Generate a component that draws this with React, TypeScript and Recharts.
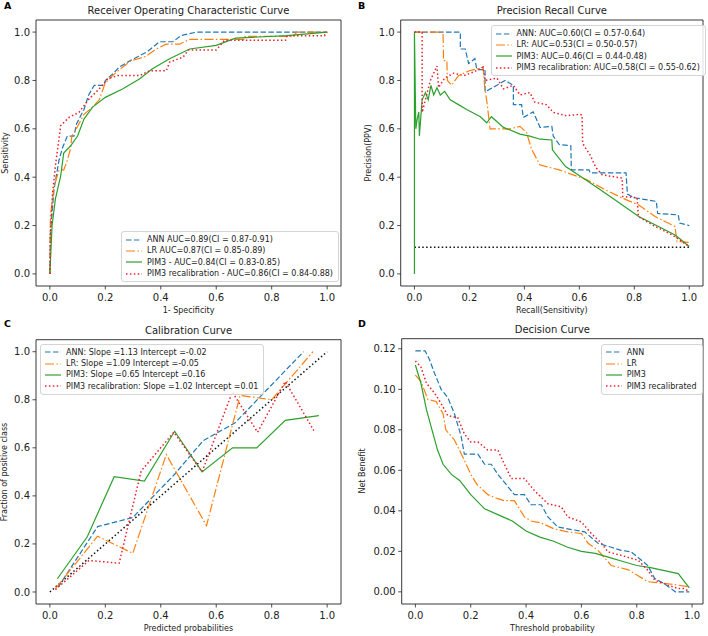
import { LineChart, Line, XAxis, YAxis, ReferenceArea } from 'recharts'

type Pt = [number, number]

const FONT = '"DejaVu Sans", "Liberation Sans", sans-serif'

const unitTicks = [0, 0.2, 0.4, 0.6, 0.8, 1.0]
const benefitTicks = [0, 0.02, 0.04, 0.06, 0.08, 0.1, 0.12]

// A: ROC curves (1-specificity, sensitivity)
const rocAnn: Pt[] = [
  [0, 0], [0.002, 0.17], [0.015, 0.35], [0.033, 0.47], [0.045, 0.52], [0.063, 0.57], [0.087, 0.57],
  [0.096, 0.62], [0.123, 0.68], [0.14, 0.74], [0.16, 0.78], [0.196, 0.78], [0.2, 0.8], [0.23, 0.83],
  [0.25, 0.855], [0.287, 0.88], [0.32, 0.9], [0.353, 0.92], [0.395, 0.96], [0.444, 0.96], [0.474, 0.986],
  [0.53, 1], [1, 1],
]
const rocLr: Pt[] = [
  [0, 0], [0.002, 0.24], [0.015, 0.36], [0.033, 0.43], [0.05, 0.43], [0.063, 0.47], [0.075, 0.52],
  [0.079, 0.57], [0.1, 0.61], [0.123, 0.66], [0.154, 0.69], [0.178, 0.72], [0.2, 0.79], [0.226, 0.82],
  [0.262, 0.855], [0.29, 0.88], [0.347, 0.9], [0.383, 0.93], [0.42, 0.95], [0.468, 0.95], [0.504, 0.97],
  [0.7, 0.97], [0.703, 0.982], [0.88, 0.982], [0.89, 1], [1, 1],
]
const rocPim: Pt[] = [
  [0, 0], [0.008, 0.2], [0.02, 0.31], [0.039, 0.405], [0.05, 0.5], [0.075, 0.53], [0.1, 0.57],
  [0.123, 0.64], [0.154, 0.69], [0.2, 0.73], [0.262, 0.765], [0.323, 0.806], [0.37, 0.848],
  [0.432, 0.89], [0.504, 0.93], [0.6, 0.945], [0.67, 0.975], [0.854, 0.985], [0.95, 0.995], [1, 1],
]
const rocRecal: Pt[] = [
  [0, 0], [0.002, 0.17], [0.01, 0.336], [0.02, 0.447], [0.039, 0.613], [0.069, 0.647], [0.105, 0.668],
  [0.141, 0.723], [0.178, 0.765], [0.208, 0.806], [0.244, 0.82], [0.323, 0.82], [0.36, 0.84],
  [0.42, 0.84], [0.432, 0.876], [0.48, 0.896], [0.5, 0.926], [0.6, 0.926], [0.63, 0.966],
  [0.85, 0.966], [0.855, 0.985], [0.99, 0.985], [1, 1],
]
const rocLabels = [
  'ANN AUC=0.89(CI = 0.87-0.91)',
  'LR AUC=0.87(CI = 0.85-0.89)',
  'PIM3 - AUC=0.84(CI = 0.83-0.85)',
  'PIM3 recalibration - AUC=0.86(CI = 0.84-0.88)',
]

// B: precision-recall curves
const prAnn: Pt[] = [
  [0, 1], [0.167, 1], [0.167, 0.93], [0.185, 0.93], [0.197, 0.87], [0.22, 0.89], [0.227, 0.845],
  [0.257, 0.845], [0.257, 0.753], [0.3, 0.78], [0.33, 0.8], [0.36, 0.78], [0.36, 0.7], [0.39, 0.7],
  [0.396, 0.647], [0.432, 0.67], [0.457, 0.606], [0.5, 0.61], [0.505, 0.57], [0.527, 0.535],
  [0.569, 0.53], [0.571, 0.43], [0.635, 0.43], [0.64, 0.418], [0.77, 0.418], [0.775, 0.33],
  [0.8, 0.315], [0.88, 0.3], [0.885, 0.25], [0.96, 0.244], [0.965, 0.21], [1, 0.2],
]
const prLr: Pt[] = [
  [0, 1], [0.104, 1], [0.106, 0.882], [0.118, 0.882], [0.12, 0.8], [0.135, 0.78], [0.16, 0.82],
  [0.2, 0.84], [0.25, 0.855], [0.255, 0.78], [0.265, 0.7], [0.275, 0.6], [0.348, 0.6], [0.384, 0.61],
  [0.408, 0.585], [0.426, 0.516], [0.457, 0.45], [0.527, 0.43], [0.626, 0.39], [0.696, 0.347],
  [0.756, 0.314], [0.816, 0.285], [0.876, 0.237], [0.948, 0.196], [0.955, 0.134], [1, 0.13],
]
const prPim: Pt[] = [
  [0, 0], [0, 1], [0.005, 0.6], [0.01, 0.64], [0.016, 0.67], [0.018, 0.57], [0.028, 0.72],
  [0.04, 0.75], [0.05, 0.72], [0.06, 0.78], [0.07, 0.74], [0.082, 0.77], [0.094, 0.74], [0.11, 0.755],
  [0.13, 0.72], [0.16, 0.7], [0.19, 0.68], [0.24, 0.65], [0.263, 0.625], [0.28, 0.65], [0.324, 0.606],
  [0.384, 0.578], [0.42, 0.57], [0.457, 0.557], [0.5, 0.554], [0.502, 0.513], [0.55, 0.444],
  [0.623, 0.389], [0.72, 0.314], [0.816, 0.237], [0.888, 0.196], [0.95, 0.16], [1, 0.113],
]
const prRecal: Pt[] = [
  [0, 1], [0.028, 1], [0.028, 0.668], [0.04, 0.72], [0.058, 0.8], [0.082, 0.86], [0.088, 0.77],
  [0.11, 0.81], [0.143, 0.83], [0.18, 0.82], [0.215, 0.835], [0.25, 0.855], [0.257, 0.8], [0.3, 0.81],
  [0.324, 0.765], [0.36, 0.78], [0.384, 0.74], [0.42, 0.75], [0.438, 0.71], [0.48, 0.7], [0.505, 0.668],
  [0.553, 0.654], [0.6, 0.66], [0.61, 0.657], [0.612, 0.54], [0.64, 0.49], [0.66, 0.44], [0.683, 0.41],
  [0.756, 0.396], [0.758, 0.32], [0.81, 0.315], [0.815, 0.237], [0.87, 0.2], [0.94, 0.16], [1, 0.113],
]
const prBaseline: Pt[] = [[0, 0.11], [1, 0.11]]
const prLabels = [
  'ANN: AUC=0.60(CI = 0.57-0.64)',
  'LR: AUC=0.53(CI = 0.50-0.57)',
  'PIM3: AUC=0.46(CI = 0.44-0.48)',
  'PIM3 recalibration: AUC=0.58(CI = 0.55-0.62)',
]

// C: calibration curves
const calAnn: Pt[] = [
  [0.03, 0.02], [0.172, 0.272], [0.299, 0.31], [0.45, 0.49], [0.553, 0.63], [0.667, 0.703], [0.915, 1.0],
]
const calLr: Pt[] = [
  [0.02, 0.014], [0.172, 0.232], [0.299, 0.161], [0.42, 0.572], [0.565, 0.276], [0.686, 0.818],
  [0.8, 0.8], [0.949, 1.0],
]
const calPim: Pt[] = [
  [0.027, 0.055], [0.135, 0.23], [0.232, 0.48], [0.341, 0.462], [0.45, 0.669], [0.549, 0.5],
  [0.659, 0.6], [0.746, 0.6], [0.849, 0.714], [0.97, 0.734],
]
const calRecal: Pt[] = [
  [0.02, 0.01], [0.141, 0.131], [0.25, 0.12], [0.329, 0.503], [0.447, 0.665], [0.549, 0.5],
  [0.658, 0.832], [0.749, 0.665], [0.849, 0.876], [0.952, 0.672],
]
const calIdeal: Pt[] = [[0, 0], [1, 1]]
const calLabels = [
  'ANN: Slope =1.13 Intercept =-0.02',
  'LR: Slope =1.09 Intercept =-0.05',
  'PIM3: Slope =0.65 Intercept =0.16',
  'PIM3 recalibration: Slope =1.02 Intercept =0.01',
]

// D: decision curves (threshold, net benefit)
const dcaAnn: Pt[] = [
  [0, 0.119], [0.035, 0.119], [0.05, 0.115], [0.069, 0.108], [0.093, 0.1], [0.117, 0.096],
  [0.141, 0.088], [0.165, 0.077], [0.177, 0.068], [0.226, 0.068], [0.25, 0.063], [0.274, 0.063],
  [0.298, 0.058], [0.322, 0.054], [0.358, 0.048], [0.394, 0.048], [0.418, 0.043], [0.455, 0.043],
  [0.479, 0.037], [0.515, 0.032], [0.612, 0.0296], [0.66, 0.024], [0.708, 0.022], [0.744, 0.0205],
  [0.78, 0.0197], [0.805, 0.017], [0.84, 0.013], [0.865, 0.0066], [0.9, 0.004], [0.94, 0], [0.99, 0],
]
const dcaLr: Pt[] = [
  [0, 0.107], [0.02, 0.104], [0.045, 0.095], [0.075, 0.094], [0.1, 0.088], [0.11, 0.08],
  [0.141, 0.075], [0.177, 0.065], [0.2, 0.058], [0.223, 0.053], [0.262, 0.048], [0.298, 0.046],
  [0.322, 0.045], [0.358, 0.045], [0.394, 0.037], [0.418, 0.035], [0.455, 0.034], [0.503, 0.031],
  [0.551, 0.0296], [0.6, 0.0288], [0.624, 0.024], [0.66, 0.0205], [0.708, 0.013], [0.768, 0.011],
  [0.805, 0.008], [0.84, 0.005], [0.913, 0.004], [0.99, 0.0025],
]
const dcaPim: Pt[] = [
  [0, 0.112], [0.02, 0.103], [0.04, 0.09], [0.06, 0.08], [0.08, 0.07], [0.1, 0.063], [0.13, 0.058],
  [0.16, 0.055], [0.2, 0.048], [0.25, 0.041], [0.3, 0.038], [0.35, 0.035], [0.4, 0.03], [0.45, 0.027],
  [0.5, 0.025], [0.55, 0.022], [0.6, 0.02], [0.65, 0.019], [0.7, 0.017], [0.75, 0.015], [0.8, 0.013],
  [0.85, 0.012], [0.9, 0.0105], [0.95, 0.009], [0.99, 0.002],
]
const dcaRecal: Pt[] = [
  [0, 0.114], [0.02, 0.111], [0.04, 0.103], [0.07, 0.098], [0.093, 0.093], [0.117, 0.087],
  [0.153, 0.086], [0.177, 0.078], [0.2, 0.074], [0.226, 0.074], [0.262, 0.07], [0.298, 0.07],
  [0.322, 0.063], [0.346, 0.056], [0.394, 0.056], [0.43, 0.05], [0.479, 0.0435], [0.527, 0.042],
  [0.551, 0.037], [0.6, 0.0345], [0.636, 0.0288], [0.672, 0.024], [0.696, 0.0197], [0.744, 0.018],
  [0.805, 0.0156], [0.84, 0.0107], [0.865, 0.0058], [0.913, 0.0033], [0.95, 0.0016], [0.973, 0.0016],
  [0.99, 0],
]
const dcaLabels = ['ANN', 'LR', 'PIM3', 'PIM3 recalibrated']

const styles = [
  { stroke: '#1f77b4', dash: '5.5 2.4', width: 1.2 },
  { stroke: '#ff7f0e', dash: '9 2.4 1.5 2.4', width: 1.2 },
  { stroke: '#2ca02c', dash: undefined, width: 1.2 },
  { stroke: '#e8202a', dash: '1.5 2.4', width: 1.5 },
]
const refStyle = { stroke: '#111', dash: '1.5 2.4', width: 1.5 }

type Style = { stroke: string; dash?: string; width: number }

interface PanelProps {
  left: number
  top: number
  plot: { x: number; y: number; w: number; h: number }
  letter: string
  title: string
  xLabel: string
  yLabel: string
  yLabelX: number
  xDomain: [number, number]
  yDomain: [number, number]
  yTicks: number[]
  yDigits: number
  series: Pt[][]
  reference?: Pt[]
  labels: string[]
  legendPos: { x: number; y: number }
}

const toRows = (pts: Pt[]) => pts.map(([x, y]) => ({ x, y }))

function Legend({ labels, x, y }: { labels: string[]; x: number; y: number }) {
  return (
    <div
      style={{
        position: 'absolute', left: x, top: y, border: '1px solid #d4d4d4', borderRadius: 3,
        background: 'rgba(255,255,255,0.85)', padding: '2px 5px 2px 4px', fontSize: 8,
        fontFamily: FONT, color: '#222',
      }}
    >
      {labels.map((label, i) => (
        <div key={label} style={{ display: 'flex', alignItems: 'center', height: 11.3 }}>
          <svg width={16} height={6} style={{ flex: 'none' }}>
            <line x1={0} y1={3} x2={16} y2={3} stroke={styles[i].stroke}
              strokeDasharray={styles[i].dash} strokeWidth={styles[i].width} />
          </svg>
          <span style={{ marginLeft: 5, whiteSpace: 'nowrap' }}>{label}</span>
        </div>
      ))}
    </div>
  )
}

function Panel(p: PanelProps) {
  const W = 354
  const H = 318
  const tickStyle = { fontSize: 10, fill: '#222', fontFamily: FONT }
  const line = (pts: Pt[], s: Style, key: string) => (
    <Line key={key} data={toRows(pts)} dataKey="y" type="linear" stroke={s.stroke}
      strokeDasharray={s.dash} strokeWidth={s.width} dot={false} activeDot={false}
      isAnimationActive={false} />
  )
  return (
    <div style={{ position: 'absolute', left: p.left, top: p.top, width: W, height: H }}>
      <LineChart width={W} height={H}
        margin={{ top: p.plot.y, right: W - p.plot.x - p.plot.w, bottom: 0, left: 0 }}>
        <XAxis type="number" dataKey="x" domain={p.xDomain} allowDataOverflow ticks={unitTicks}
          tickFormatter={(v: number) => v.toFixed(1)} height={H - p.plot.y - p.plot.h}
          axisLine={false} tickSize={3.5} tickMargin={4} tick={tickStyle} interval={0}
          tickLine={{ stroke: '#222', strokeWidth: 0.8 }} />
        <YAxis type="number" dataKey="y" domain={p.yDomain} allowDataOverflow ticks={p.yTicks}
          tickFormatter={(v: number) => v.toFixed(p.yDigits)} width={p.plot.x}
          axisLine={false} tickSize={3.5} tickMargin={2.5} tick={tickStyle} interval={0}
          tickLine={{ stroke: '#222', strokeWidth: 0.8 }} />
        <ReferenceArea x1={p.xDomain[0]} x2={p.xDomain[1]} y1={p.yDomain[0]} y2={p.yDomain[1]}
          fill="none" stroke="#222" strokeWidth={0.9} ifOverflow="visible" />
        {p.reference ? line(p.reference, refStyle, 'ref') : null}
        {p.series.map((pts, i) => line(pts, styles[i], `s${i}`))}
      </LineChart>
      <div style={{ position: 'absolute', left: 4, top: 0, fontSize: 9.5, fontWeight: 'bold', fontFamily: FONT }}>
        {p.letter}
      </div>
      <div style={{
        position: 'absolute', left: p.plot.x, width: p.plot.w, top: p.plot.y - 15, textAlign: 'center',
        fontSize: 10, lineHeight: '12px', fontFamily: FONT, color: '#222',
      }}>{p.title}</div>
      <div style={{
        position: 'absolute', left: p.plot.x, width: p.plot.w, top: 306, textAlign: 'center',
        fontSize: 8, lineHeight: '10px', fontFamily: FONT, color: '#222',
      }}>{p.xLabel}</div>
      <div style={{
        position: 'absolute', left: p.yLabelX - 100, width: 200, top: p.plot.y + p.plot.h / 2 - 5,
        textAlign: 'center', fontSize: 8, lineHeight: '10px', fontFamily: FONT, color: '#222',
        transform: 'rotate(-90deg)',
      }}>{p.yLabel}</div>
      <Legend labels={p.labels} x={p.legendPos.x} y={p.legendPos.y} />
    </div>
  )
}

export default function App() {
  return (
    <div style={{ position: 'absolute', left: 0, top: 0, width: 708, height: 636, background: '#fff' }}>
      <Panel left={0} top={0} plot={{ x: 36, y: 20, w: 305, h: 266 }} letter="A"
        title="Receiver Operating Characteristic Curve" xLabel="1- Specificity" yLabel="Sensitivity"
        yLabelX={6} xDomain={[-0.05, 1.05]} yDomain={[-0.05, 1.05]} yTicks={unitTicks} yDigits={1}
        series={[rocAnn, rocLr, rocPim, rocRecal]} labels={rocLabels} legendPos={{ x: 121, y: 231 }} />
      <Panel left={354} top={0} plot={{ x: 46.7, y: 20, w: 302.3, h: 266 }} letter="B"
        title="Precision Recall Curve" xLabel="Recall(Sensitivity)" yLabel="Precision(PPV)"
        yLabelX={15} xDomain={[-0.05, 1.05]} yDomain={[-0.05, 1.05]} yTicks={unitTicks} yDigits={1}
        series={[prAnn, prLr, prPim, prRecal]} reference={prBaseline} labels={prLabels}
        legendPos={{ x: 136.5, y: 25 }} />
      <Panel left={0} top={318} plot={{ x: 36, y: 21.7, w: 305, h: 264.3 }} letter="C"
        title="Calibration Curve" xLabel="Predicted probabilities" yLabel="Fraction of positive class"
        yLabelX={5} xDomain={[-0.05, 1.05]} yDomain={[-0.05, 1.05]} yTicks={unitTicks} yDigits={1}
        series={[calAnn, calLr, calPim, calRecal]} reference={calIdeal} labels={calLabels}
        legendPos={{ x: 40, y: 25.7 }} />
      <Panel left={354} top={318} plot={{ x: 47.7, y: 20.7, w: 301.3, h: 265.3 }} letter="D"
        title="Decision Curve" xLabel="Threshold probability" yLabel="Net Benefit"
        yLabelX={9} xDomain={[-0.0495, 1.0395]} yDomain={[-0.006, 0.125]} yTicks={benefitTicks} yDigits={2}
        series={[dcaAnn, dcaLr, dcaPim, dcaRecal]} labels={dcaLabels} legendPos={{ x: 246.7, y: 25.7 }} />
    </div>
  )
}
